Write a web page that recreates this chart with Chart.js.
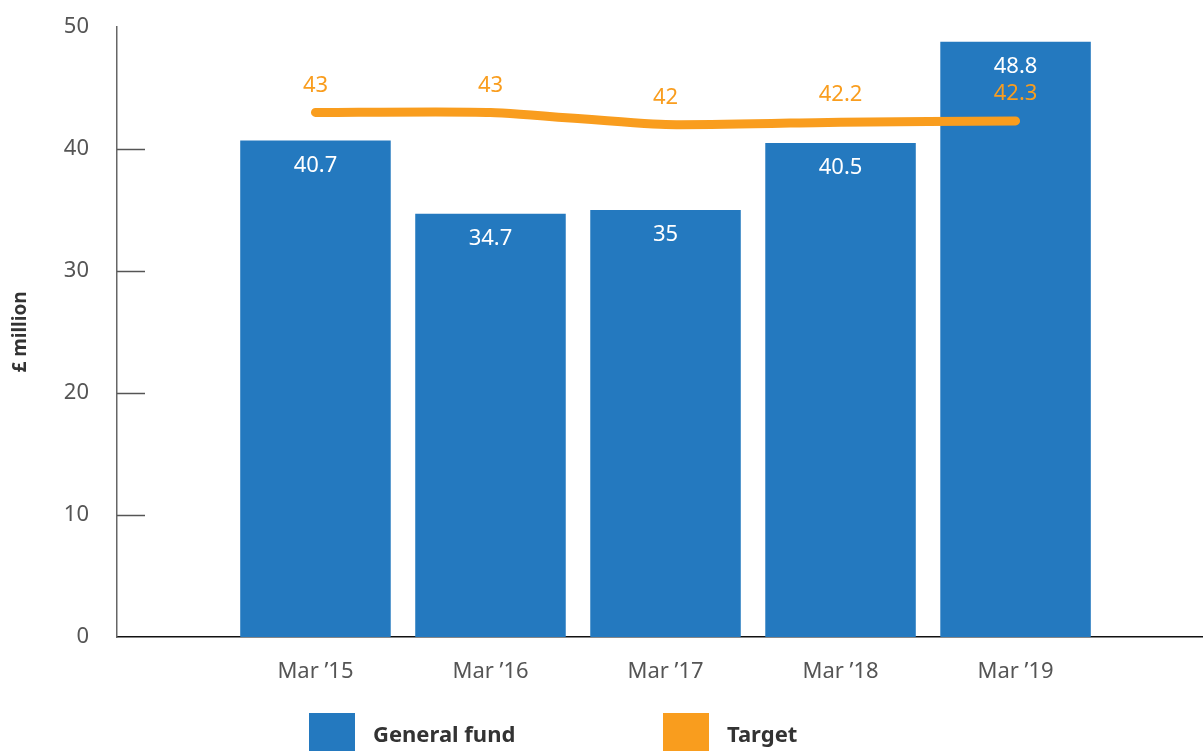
<!DOCTYPE html>
<html>
<head>
<meta charset="utf-8">
<script src="https://cdn.jsdelivr.net/npm/chart.js@4.4.1/dist/chart.umd.min.js"></script>
<style>
    html, body { margin: 0; padding: 0; background: #fff; }
    #wrap { position: relative; width: 1203px; height: 751px; overflow: hidden; }
    #legend { position: absolute; left: 309px; top: 713px; display: flex; font-family: 'Noto Sans', sans-serif; }
    .legend-item { display: flex; align-items: center; width: 354px; }
    .legend-box { width: 46px; height: 40px; margin-right: 18px; }
    .legend-text { font-weight: bold; font-size: 22px; color: #333; }
</style>
</head>
<body>
<div id="wrap">
    <canvas id="fundChart"></canvas>
    <div id="legend"></div>
</div>
<script>
const months = ['Mar \u201915', 'Mar \u201916', 'Mar \u201917', 'Mar \u201918', 'Mar \u201919'];
const generalFund = [40.7, 34.7, 35, 40.5, 48.8];
const target = [43, 43, 42, 42.2, 42.3];
const yTicks = [0, 10, 20, 30, 40, 50];

const blue = '#2479BF';
const orange = '#F99D1E';
const fontFamily = "'Noto Sans', sans-serif";

// inward tick marks on the y axis (not at 0 and 50)
const innerTicks = {
    id: 'innerTicks',
    afterDraw(chart) {
        const y = chart.scales.y;
        const ctx = chart.ctx;
        ctx.save();
        ctx.strokeStyle = '#555';
        ctx.lineWidth = 1.5;
        yTicks.slice(1, -1).forEach(v => {
            const py = Math.round(y.getPixelForValue(v)) + 0.5;
            ctx.beginPath();
            ctx.moveTo(chart.chartArea.left, py);
            ctx.lineTo(chart.chartArea.left + 28, py);
            ctx.stroke();
        });
        ctx.restore();
    }
};

// value labels on bars and line points
const valueLabels = {
    id: 'valueLabels',
    afterDatasetsDraw(chart) {
        const ctx = chart.ctx;
        ctx.save();
        ctx.font = '22px ' + fontFamily;
        ctx.textAlign = 'center';
        ctx.textBaseline = 'middle';
        chart.data.datasets.forEach((ds, i) => {
            const meta = chart.getDatasetMeta(i);
            meta.data.forEach((el, j) => {
                const val = ds.data[j].y;
                if (ds.type === 'line') {
                    ctx.fillStyle = orange;
                    ctx.fillText(String(val), el.x, el.y - 27);
                } else {
                    ctx.fillStyle = '#fff';
                    ctx.fillText(String(val), el.x, el.y + 25);
                }
            });
        });
        ctx.restore();
    }
};

const ctx = document.getElementById('fundChart').getContext('2d');

const fundChart = new Chart(ctx, {
    data: {
        datasets: [{
            type: 'line',
            label: 'Target',
            data: target.map((v, i) => ({ x: i, y: v })),
            borderColor: orange,
            backgroundColor: orange,
            borderWidth: 9,
            borderCapStyle: 'round',
            borderJoinStyle: 'round',
            tension: 0.2,
            pointRadius: 0,
            order: 0
        }, {
            type: 'bar',
            label: 'General fund',
            data: generalFund.map((v, i) => ({ x: i, y: v })),
            backgroundColor: blue,
            categoryPercentage: 1,
            barPercentage: 0.86,
            order: 1
        }]
    },
    options: {
        responsive: true,
        maintainAspectRatio: false,
        animation: false,
        layout: {
            autoPadding: false,
            padding: { top: 27, right: 0, bottom: 0, left: 0 }
        },
        scales: {
            x: {
                type: 'linear',
                offset: false,
                min: -1.134,
                max: 5.071,
                afterBuildTicks: function (scale) {
                    scale.ticks = months.map((m, i) => ({ value: i }));
                },
                afterFit: function (scale) {
                    scale.height = 114;
                },
                grid: { display: false, drawTicks: false, offset: false },
                border: { color: '#111', width: 1.5 },
                ticks: {
                    padding: 22,
                    color: '#555',
                    font: { family: fontFamily, size: 22 },
                    callback: function (value) {
                        return months[value] || '';
                    }
                }
            },
            y: {
                min: 0,
                max: 50,
                afterBuildTicks: function (scale) {
                    scale.ticks = yTicks.map(v => ({ value: v }));
                },
                afterFit: function (scale) {
                    scale.width = 117;
                },
                // tick marks themselves are drawn inward by the plugin
                grid: { display: false, drawTicks: true, tickLength: 25 },
                border: { color: '#666', width: 1.5 },
                ticks: {
                    padding: 3,
                    color: '#555',
                    font: { family: fontFamily, size: 22 }
                },
                title: {
                    display: true,
                    text: '\u00a3 million',
                    color: '#333',
                    padding: { top: 9, bottom: 0 },
                    font: { family: fontFamily, size: 19, weight: 'bold' }
                }
            }
        },
        plugins: {
            legend: { display: false },
            tooltip: { enabled: false }
        }
    },
    plugins: [innerTicks, valueLabels]
});

// legend built from the datasets
const legendEl = document.getElementById('legend');
[fundChart.data.datasets[1], fundChart.data.datasets[0]].forEach(ds => {
    const item = document.createElement('div');
    item.className = 'legend-item';
    const box = document.createElement('div');
    box.className = 'legend-box';
    box.style.background = ds.type === 'line' ? ds.borderColor : ds.backgroundColor;
    const txt = document.createElement('span');
    txt.className = 'legend-text';
    txt.textContent = ds.label;
    item.appendChild(box);
    item.appendChild(txt);
    legendEl.appendChild(item);
});
</script>
</body>
</html>
